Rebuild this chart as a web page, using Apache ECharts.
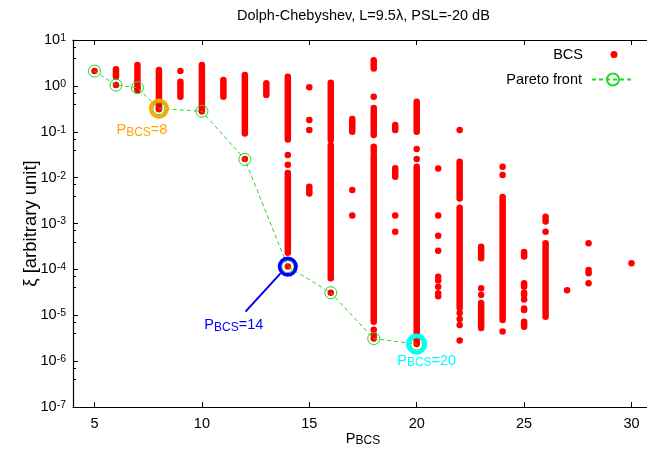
<!DOCTYPE html>
<html><head><meta charset="utf-8">
<script src="https://cdn.jsdelivr.net/npm/echarts@6/dist/echarts.min.js"></script>
<style>html,body{margin:0;padding:0;background:#fff}#c{width:647px;height:454px}</style>
</head><body><div id="c"></div>
<script>
// ---- data ----
const xTicks = [5, 10, 15, 20, 25, 30];
const paretoP  = [5, 6, 7, 8, 10, 12, 14, 16, 18, 20];
const paretoXi = [2.1, 1.04, 0.91, 0.32, 0.28, 0.025, 1.15e-4, 3.1e-5, 3.1e-6, 2.35e-6];
// dense columns of BCS solutions: [P, lowest xi, highest xi]
const bcsRuns = [
  [6, 1.58, 2.3], [7, 0.81, 2.85], [8, 0.31, 2.22], [9, 0.58, 1.23], [10, 0.28, 2.85],
  [11, 0.58, 1.34], [12, 0.092, 1.73], [13, 0.63, 1.14],
  [14, 0.068, 1.58], [14, 0.00023, 0.0126], [15, 0.0045, 0.0063],
  [16, 0.066, 1.17], [16, 6.4e-5, 0.051], [17, 0.1, 0.19],
  [18, 2.4, 3.6], [18, 0.085, 0.33], [18, 0.037, 0.047], [18, 7.2e-6, 0.031],
  [19, 0.109, 0.14], [19, 0.0105, 0.016],
  [20, 0.1, 0.45], [20, 2.65e-6, 0.0173],
  [22, 0.0035, 0.0222], [22, 1.44e-5, 0.0022],
  [23, 0.000174, 0.00031], [23, 5.3e-6, 1.85e-5],
  [24, 7.9e-6, 0.0038],
  [25, 0.00019, 0.00024], [25, 4.2e-5, 5e-5], [25, 2.8e-5, 3.1e-5], [25, 1.3e-5, 1.4e-5], [25, 5.6e-6, 7.2e-6],
  [26, 0.0011, 0.0014], [26, 9.3e-6, 0.00037],
  [28, 8.2e-5, 9.7e-5]
];
// isolated BCS solutions: [P, xi]
const bcsDots = [
  [5, 2.1], [6, 1.04], [7, 0.91], [8, 0.32], [9, 2.11], [10, 0.28], [12, 0.0255],
  [14, 0.031], [14, 0.019], [14, 1.15e-4],
  [15, 0.93], [15, 0.18], [15, 0.109], [16, 3.1e-5],
  [17, 0.0054], [17, 0.0015],
  [18, 0.58], [18, 4.8e-6], [18, 3.7e-6], [18, 3.1e-6],
  [19, 0.0015], [19, 0.00066],
  [20, 0.042], [20, 0.0255], [20, 2.35e-6],
  [21, 0.0158], [21, 0.0015], [21, 0.00054], [21, 0.000255], [21, 6.9e-5], [21, 5.7e-5], [21, 4.2e-5], [21, 3.0e-5], [21, 2.6e-5],
  [22, 0.109], [22, 1.12e-5], [22, 8.3e-6], [22, 6.1e-6], [22, 2.8e-6],
  [23, 3.9e-5], [23, 2.8e-5],
  [24, 0.0173], [24, 0.0114], [24, 4.4e-6],
  [25, 2.2e-5], [26, 0.00066], [27, 3.5e-5],
  [28, 0.00037], [28, 5e-5], [30, 0.000136]
];
const highlightP = [8, 14, 20];
const highlightColors = ['#ffa500', '#0000ff', '#00ffff'];
const pointer14 = [[13.66, 8.2e-5], [12.03, 1.2e-5]];

// ---- styling ----
const FONT = '"Liberation Sans", Arial, Helvetica, sans-serif';
const FS = 14.5, FSS = 12, FSUP = 10.5;
const GREEN = '#22d822';
const labelOffsets = [[-17, 22], [-54, 59], [10, 17]];
const ringSizes = [16.5, 16.5, 17];
const ringWidths = [3.6, 3.6, 4.2];
// legend dot icon: small circle centred in a 42x7 box
const dotIcon = 'path://M0,0M42,7M17.5,3.5A3.5,3.5,0,1,1,24.5,3.5A3.5,3.5,0,1,1,17.5,3.5Z';

function subRich(color) {
  return {
    p: { fontFamily: FONT, fontSize: FS, color: color, lineHeight: 16, verticalAlign: 'top' },
    s: { fontFamily: FONT, fontSize: FSS, color: color, lineHeight: 11, padding: [7, 0, 0, 0], verticalAlign: 'bottom' }
  };
}

const chart = echarts.init(document.getElementById('c'), null, { renderer: 'canvas' });

const ringData = highlightP.map((p, i) => {
  const k = paretoP.indexOf(p);
  return {
    value: [p, paretoXi[k]],
    symbolSize: ringSizes[i],
    itemStyle: { color: 'rgba(0,0,0,0)', borderColor: highlightColors[i], borderWidth: ringWidths[i], opacity: 1 },
    label: {
      show: true, position: 'inside', offset: labelOffsets[i],
      formatter: '{p|P}{s|BCS}{p|=' + p + '}',
      rich: subRich(highlightColors[i])
    }
  };
});

const axisLineStyle = { color: '#000', width: 1.2 };
const legendText = { fontFamily: FONT, fontSize: FS, color: '#000', padding: [0, 5, 0, 0] };

const option = {
  animation: false,
  backgroundColor: '#fff',
  title: {
    text: 'Dolph-Chebyshev, L=9.5\u03bb, PSL=-20 dB',
    left: 237, top: 8, padding: 0,
    textStyle: { fontFamily: FONT, fontSize: FS, fontWeight: 'normal', color: '#000' }
  },
  legend: [
    {
      data: [{ name: 'BCS', icon: dotIcon }],
      right: 12, top: 47, padding: 0, align: 'right',
      itemWidth: 42, itemHeight: 7,
      textStyle: legendText
    },
    {
      data: ['Pareto front'],
      right: 12, top: 72, padding: 0, align: 'right',
      itemWidth: 42, itemHeight: 15,
      textStyle: legendText
    }
  ],
  grid: { left: 73, right: -6, top: 40, bottom: 47, containLabel: false, outerBoundsMode: 'none' },
  xAxis: [
    {
      type: 'value', min: 4, max: 31, position: 'bottom',
      name: '{p|P}{s|BCS}', nameLocation: 'middle', nameGap: 24, nameMoveOverlap: false,
      nameTextStyle: { rich: subRich('#000') },
      axisLine: { show: true, lineStyle: axisLineStyle },
      axisTick: { show: true, inside: true, length: 5, customValues: xTicks, lineStyle: { color: '#000' } },
      axisLabel: { show: true, customValues: xTicks, margin: 9, fontFamily: FONT, fontSize: FS, color: '#000' },
      splitLine: { show: false }
    },
    {
      type: 'value', min: 4, max: 31, position: 'top',
      axisLine: { show: true, lineStyle: axisLineStyle },
      axisTick: { show: true, inside: true, length: 5, customValues: xTicks, lineStyle: { color: '#000' } },
      axisLabel: { show: false },
      splitLine: { show: false }
    }
  ],
  yAxis: [
    {
      type: 'log', logBase: 10, min: 1e-7, max: 10, splitNumber: 8, position: 'left',
      name: '\u03be [arbitrary unit]', nameLocation: 'middle', nameGap: 33, nameRotate: 90, nameMoveOverlap: false,
      nameTextStyle: { fontFamily: FONT, fontSize: 18.5, color: '#000' },
      axisLine: { show: true, lineStyle: axisLineStyle },
      axisTick: { show: true, inside: true, length: 5, lineStyle: { color: '#000' } },
      minorTick: { show: true, splitNumber: 3, length: 3, lineStyle: { color: '#000' } },
      axisLabel: {
        margin: 7,
        formatter: v => '{b|10}{e|' + Math.round(Math.log10(v)) + '}',
        rich: {
          b: { fontFamily: FONT, fontSize: FS, color: '#000', lineHeight: 15, verticalAlign: 'bottom' },
          e: { fontFamily: FONT, fontSize: FSUP, color: '#000', lineHeight: 10, padding: [0, 0, 7, 0], verticalAlign: 'top' }
        }
      },
      splitLine: { show: false }
    },
    {
      type: 'log', logBase: 10, min: 1e-7, max: 10, splitNumber: 8, position: 'right',
      axisLine: { show: true, lineStyle: axisLineStyle },
      axisTick: { show: true, inside: true, length: 5, lineStyle: { color: '#000' } },
      minorTick: { show: true, splitNumber: 3, length: 3, lineStyle: { color: '#000' } },
      axisLabel: { show: false },
      splitLine: { show: false }
    }
  ],
  series: [
    {
      name: 'BCS runs', type: 'custom', z: 2, silent: true, clip: true,
      encode: { x: 0, y: [1, 2] },
      data: bcsRuns,
      renderItem: function (params, api) {
        const a = api.coord([api.value(0), api.value(1)]);
        const b = api.coord([api.value(0), api.value(2)]);
        return {
          type: 'line',
          shape: { x1: a[0], y1: a[1], x2: b[0], y2: b[1] },
          style: { stroke: '#ff0000', lineWidth: 6.5, lineCap: 'round' }
        };
      }
    },
    {
      name: 'BCS', type: 'scatter', z: 2, silent: true,
      symbol: 'circle', symbolSize: 6.5,
      itemStyle: { color: '#ff0000', opacity: 1 },
      data: bcsDots
    },
    {
      name: 'Pareto front', type: 'line', z: 3, silent: true,
      symbol: 'circle', symbolSize: 12,
      itemStyle: { color: 'rgba(0,0,0,0)', borderColor: GREEN, borderWidth: 1 },
      lineStyle: { color: GREEN, width: 1, type: [4, 3] },
      data: paretoP.map((p, i) => [p, paretoXi[i]])
    },
    {
      name: 'pointer', type: 'line', z: 4, silent: true, symbol: 'none',
      lineStyle: { color: '#0000ff', width: 2 },
      data: pointer14
    },
    {
      name: 'rings', type: 'scatter', z: 5, silent: true, symbol: 'circle',
      data: ringData
    }
  ]
};
chart.setOption(option);
</script>
</body></html>
